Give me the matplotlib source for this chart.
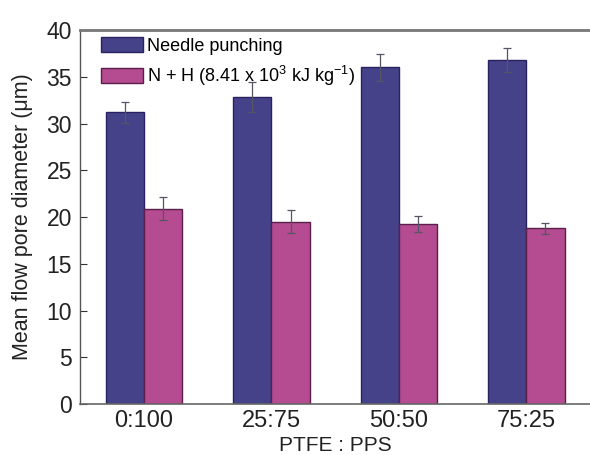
import numpy as np
import matplotlib
matplotlib.use("Agg")
import matplotlib.pyplot as plt

plt.rcParams['font.family'] = ['Liberation Sans', 'DejaVu Sans']

# data
ratios = ["0:100", "25:75", "50:50", "75:25"]
needle = [31.2, 32.8, 36.0, 36.8]
needle_err = [1.1, 1.6, 1.4, 1.3]
nh = [20.9, 19.5, 19.25, 18.8]
nh_err = [1.2, 1.2, 0.85, 0.6]

blue = "#46428a"
pink = "#b54b90"

fig = plt.figure(figsize=(5.9, 4.55), dpi=100)
ax = fig.add_axes([0.136, 0.112, 0.864, 0.822])

x = np.arange(len(ratios))
w = 0.30
ekw = dict(ecolor="#555566", elinewidth=0.9, capsize=3, capthick=0.9)
ax.bar(x - w / 2, needle, w, yerr=needle_err, color=blue, edgecolor="#2a2260",
       linewidth=1.0, error_kw=ekw, label="Needle punching")
ax.bar(x + w / 2, nh, w, yerr=nh_err, color=pink, edgecolor="#5a1f4a",
       linewidth=1.0, error_kw=ekw,
       label="N + H (8.41 x 10$^{\\mathregular{3}}$ kJ kg$^{\\mathregular{-1}}$)")

ax.set_xlim(-0.5, 3.5)
ax.set_ylim(0, 40)
ax.set_yticks(range(0, 41, 5))
ax.set_xticks(x)
ax.set_xticklabels(ratios)
ax.tick_params(axis="y", direction="in", length=5, width=0.8, labelsize=16.5,
               colors="#333333", labelcolor="#222222", pad=6)
ax.tick_params(axis="x", length=0, labelsize=17, labelcolor="#222222", pad=4)

ax.spines["right"].set_visible(False)
ax.spines["top"].set_color("#777777")
ax.spines["top"].set_linewidth(2)
ax.spines["left"].set_color("#555555")
ax.spines["bottom"].set_color("#666666")
ax.spines["left"].set_linewidth(1)
ax.spines["bottom"].set_linewidth(1.2)

ax.set_ylabel("Mean flow pore diameter (\u03bcm)", fontsize=15.5, color="#222222",
              labelpad=10)
ax.set_xlabel("PTFE : PPS", fontsize=15, color="#222222", labelpad=3)

ax.legend(loc="upper left", bbox_to_anchor=(0.02, 1.01), frameon=False,
          fontsize=13, handlelength=2.3, handleheight=0.9, handletextpad=0.25,
          labelspacing=0.5, borderaxespad=0.2)

fig.savefig("out.png", dpi=100)
